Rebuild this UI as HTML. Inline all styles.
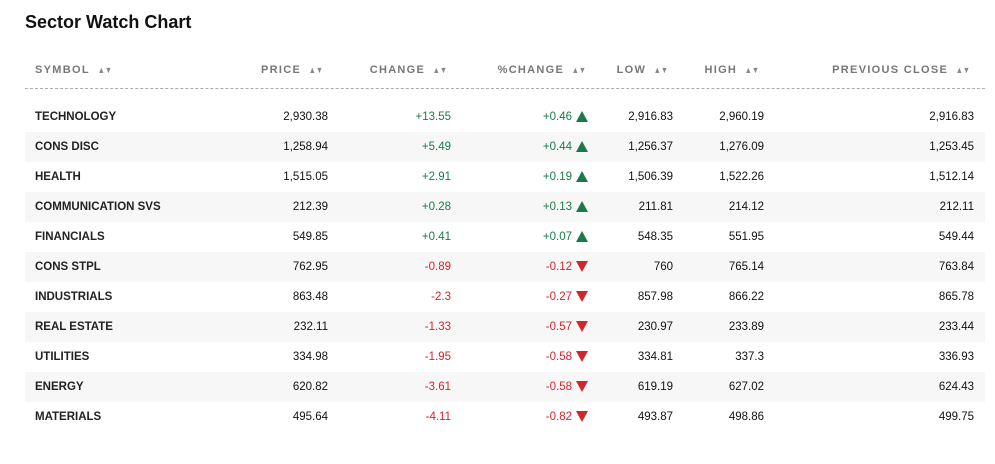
<!DOCTYPE html>
<html><head><meta charset="utf-8"><style>
body{margin:0;width:995px;height:464px;background:#fff;font-family:"Liberation Sans",sans-serif;position:relative;overflow:hidden}
.a{position:absolute;white-space:nowrap}
.h{font-size:11px;font-weight:bold;color:#777;letter-spacing:1.3px;top:64px}
.h .s{font-size:9px;color:#888;letter-spacing:0;margin-left:6px;display:inline-block;transform:scaleX(0.8)}
.row{position:absolute;left:25px;width:960px;height:30px}
.c{position:absolute;top:9px;font-size:11.5px;font-weight:bold;color:#222;white-space:nowrap}
.up{color:#1a7a4c;font-weight:normal}.dn{color:#d0262e;font-weight:normal}
.tri{position:absolute;width:0;height:0;border-left:6px solid transparent;border-right:6px solid transparent}
</style></head><body>
<div class="a" style="left:25px;top:12px;font-size:18px;font-weight:bold;color:#111">Sector Watch Chart</div>
<div class="a h" style="left:35px">SYMBOL<span class="s">▲▼</span></div>
<div class="a h" style="right:670px">PRICE<span class="s">▲▼</span></div>
<div class="a h" style="right:546px">CHANGE<span class="s">▲▼</span></div>
<div class="a h" style="right:407px">%CHANGE<span class="s">▲▼</span></div>
<div class="a h" style="right:325px">LOW<span class="s">▲▼</span></div>
<div class="a h" style="right:234px">HIGH<span class="s">▲▼</span></div>
<div class="a h" style="right:23px">PREVIOUS CLOSE<span class="s">▲▼</span></div>
<div class="a" style="left:25px;top:88px;width:960px;border-top:1px dashed #aaa"></div>
<div id="tbl"></div>
<script>
const symbols=["TECHNOLOGY","CONS DISC","HEALTH","COMMUNICATION SVS","FINANCIALS","CONS STPL","INDUSTRIALS","REAL ESTATE","UTILITIES","ENERGY","MATERIALS"];
const prices=["2,930.38","1,258.94","1,515.05","212.39","549.85","762.95","863.48","232.11","334.98","620.82","495.64"];
const changes=["+13.55","+5.49","+2.91","+0.28","+0.41","-0.89","-2.3","-1.33","-1.95","-3.61","-4.11"];
const pctChanges=["+0.46","+0.44","+0.19","+0.13","+0.07","-0.12","-0.27","-0.57","-0.58","-0.58","-0.82"];
const lows=["2,916.83","1,256.37","1,506.39","211.81","548.35","760","857.98","230.97","334.81","619.19","493.87"];
const highs=["2,960.19","1,276.09","1,522.26","214.12","551.95","765.14","866.22","233.89","337.3","627.02","498.86"];
const prevCloses=["2,916.83","1,253.45","1,512.14","212.11","549.44","763.84","865.78","233.44","336.93","624.43","499.75"];
const tbl=document.getElementById('tbl');
symbols.forEach((s,i)=>{
 const r=document.createElement('div');r.className='row';
 
 
 r.style.top=(102+30*i)+'px';
 if(i%2)r.style.background='#f7f7f7';
 const up=changes[i][0]!=='-';
 const cls=up?'up':'dn';
 const tri=up?'<div class="tri" style="left:551px;top:9px;border-bottom:11px solid #1a7a4c"></div>'
  :'<div class="tri" style="left:551px;top:9px;border-top:11px solid #d0262e"></div>';
 r.innerHTML=
 `<div class="c" style="left:10px">${s}</div>`+
 `<div class="c" style="right:657px;font-weight:normal;color:#111">${prices[i]}</div>`+
 `<div class="c ${cls}" style="right:534px">${changes[i]}</div>`+
 `<div class="c ${cls}" style="right:413px">${pctChanges[i]}</div>`+tri+
 `<div class="c" style="right:312px;font-weight:normal;color:#111">${lows[i]}</div>`+
 `<div class="c" style="right:221px;font-weight:normal;color:#111">${highs[i]}</div>`+
 `<div class="c" style="right:11px;font-weight:normal;color:#111">${prevCloses[i]}</div>`;
 tbl.appendChild(r);
});
</script>
</body></html>
